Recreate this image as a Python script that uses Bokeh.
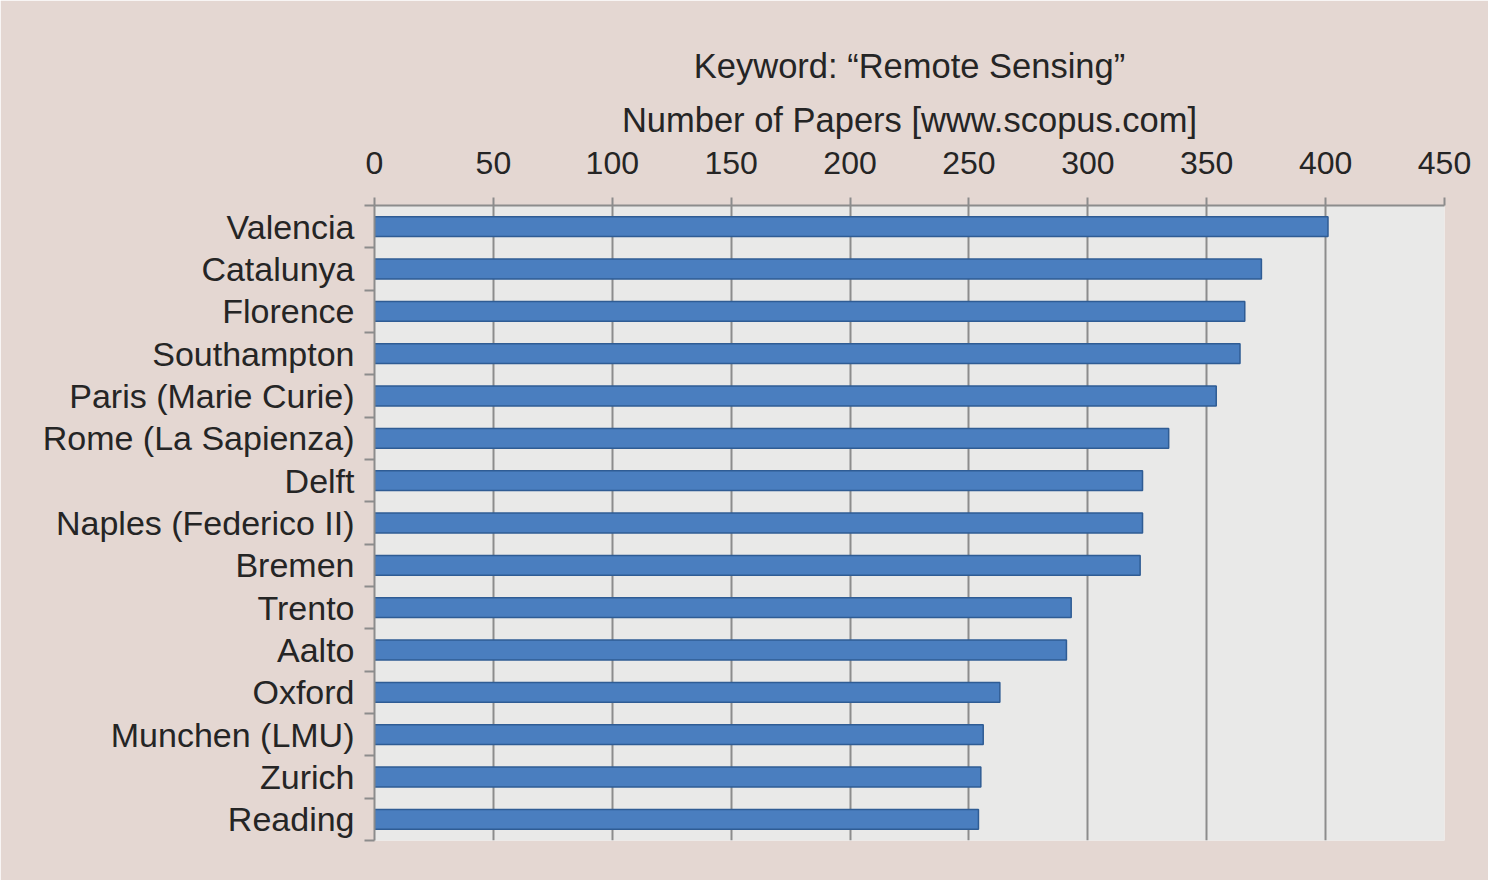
from bokeh.plotting import figure
from bokeh.models import Range1d, FixedTicker, ColumnDataSource
from bokeh.embed import file_html
from bokeh.resources import INLINE

universities = ["Valencia", "Catalunya", "Florence", "Southampton", "Paris (Marie Curie)",
                "Rome (La Sapienza)", "Delft", "Naples (Federico II)", "Bremen", "Trento",
                "Aalto", "Oxford", "Munchen (LMU)", "Zurich", "Reading"]
papers = [401, 373, 366, 364, 354, 334, 323, 323, 322, 293, 291, 263, 256, 255, 254]
x_ticks = [0, 50, 100, 150, 200, 250, 300, 350, 400, 450]

n = len(universities)
centers = [n - 1 - i + 0.5 for i in range(n)]
source = ColumnDataSource(dict(y=centers, right=papers, name=universities))

FONT = "Liberation Sans"
TXT = "#252525"
GRID = "#8c8c8c"

p = figure(width=1488, height=880, output_backend="svg", toolbar_location=None,
           x_range=Range1d(0, 450), y_range=Range1d(0, n), x_axis_location="above",
           min_border_left=374, min_border_right=44, min_border_top=205, min_border_bottom=40,
           title="Keyword: \u201cRemote Sensing\u201d")

p.border_fill_color = "#e4d7d2"
p.background_fill_color = "#e9e9e8"
p.outline_line_color = None

p.title.align = "center"
p.title.text_font = FONT
p.title.text_font_size = "34.5px"
p.title.text_font_style = "normal"
p.title.text_color = TXT
p.title.standoff = 25

p.hbar(y="y", right="right", left=0, height=0.47, source=source,
       fill_color="#4a7ebf", line_color="#2f5c94", line_width=1.5)

xa = p.xaxis[0]
xa.ticker = FixedTicker(ticks=x_ticks)
xa.axis_label = "Number of Papers [www.scopus.com]"
xa.axis_label_text_font = FONT
xa.axis_label_text_font_size = "34.5px"
xa.axis_label_text_font_style = "normal"
xa.axis_label_text_color = TXT
xa.axis_label_standoff = 10
xa.major_label_text_font = FONT
xa.major_label_text_font_size = "32px"
xa.major_label_text_color = TXT
xa.major_label_standoff = 24
xa.major_tick_out = 8
xa.major_tick_in = 0
xa.major_tick_line_color = GRID
xa.major_tick_line_width = 2
xa.minor_tick_line_color = None
xa.axis_line_color = GRID
xa.axis_line_width = 2

ya = p.yaxis[0]
ya.ticker = FixedTicker(ticks=centers, minor_ticks=list(range(n + 1)))
ya.major_label_overrides = {c: name for c, name in zip(centers, universities)}
ya.major_label_text_font = FONT
ya.major_label_text_font_size = "34px"
ya.major_label_text_color = TXT
ya.major_label_standoff = 10
ya.major_tick_line_color = None
ya.major_tick_out = 0
ya.major_tick_in = 0
ya.minor_tick_out = 10
ya.minor_tick_in = 0
ya.minor_tick_line_color = GRID
ya.minor_tick_line_width = 2
ya.axis_line_color = GRID
ya.axis_line_width = 2

p.xgrid.ticker = FixedTicker(ticks=x_ticks)
p.xgrid.grid_line_color = GRID
p.xgrid.grid_line_width = 2
p.ygrid.grid_line_color = None

open("out.html", "w").write(file_html(p, INLINE))
